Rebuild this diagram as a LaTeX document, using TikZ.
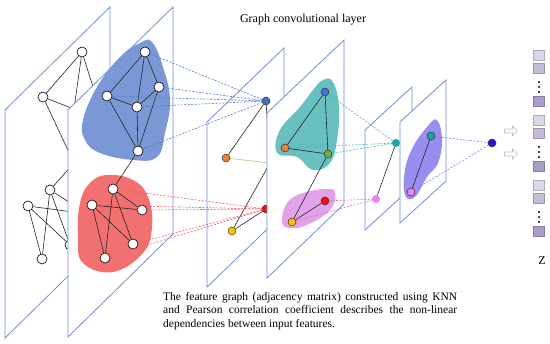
\documentclass[tikz,border=0pt]{standalone}
\usepackage{fontspec}
\setmainfont{Liberation Serif}
\usepackage{xcolor}
\definecolor{gcpanel}{RGB}{112,142,215}
\definecolor{gcblue}{RGB}{68,114,196}
\definecolor{gcorange}{RGB}{237,125,49}
\definecolor{gcgreen}{RGB}{112,173,71}
\definecolor{gcgreenl}{RGB}{160,205,130}
\definecolor{gcred}{RGB}{250,10,10}
\definecolor{gcyellow}{RGB}{255,192,0}
\definecolor{gcteal}{RGB}{24,165,160}
\definecolor{gcpink}{RGB}{240,130,240}
\definecolor{gcdeep}{RGB}{40,20,210}
\definecolor{blobblue}{RGB}{122,152,214}
\definecolor{blobred}{RGB}{242,112,112}
\definecolor{blobteal}{RGB}{104,192,192}
\definecolor{blobpink}{RGB}{226,162,232}
\definecolor{blobpurple}{RGB}{152,142,240}
\definecolor{linkblue}{RGB}{80,120,210}
\definecolor{linkred}{RGB}{240,90,110}
\definecolor{linkteal}{RGB}{60,185,185}
\definecolor{linkpink}{RGB}{225,100,225}
\definecolor{linkpurple}{RGB}{130,115,235}
\definecolor{vlight}{RGB}{220,214,232}
\definecolor{vmid}{RGB}{198,188,218}
\definecolor{vdark}{RGB}{170,156,200}
\definecolor{gcarrow}{RGB}{180,190,205}
\usepackage{tikz}
\usetikzlibrary{shapes.arrows}
\tikzset{
  panel/.style={draw=gcpanel, fill=white, line width=0.8pt},
  wnode/.style={draw, circle, fill=white, minimum size=10pt, inner sep=0pt, line width=0.6pt},
  cnode/.style={draw=black!80, circle, fill=#1, minimum size=8pt, inner sep=0pt, line width=0.5pt},
  pnode/.style={circle, fill=#1, minimum size=8pt, inner sep=0pt},
  gedge/.style={draw=black!85, line width=0.6pt},
  dlink/.style={draw=#1, line width=0.6pt, dash pattern=on 2pt off 1.5pt},
  vsq/.style={draw=#1!80!black, fill=#1, minimum width=11pt, minimum height=10pt,
              inner sep=0pt, line width=0.4pt},
  harrow/.style={single arrow, draw=gcarrow, fill=white, minimum height=13pt,
                 minimum width=10pt, single arrow head extend=2pt, inner sep=1pt, line width=0.6pt},
}

\begin{document}
\begin{tikzpicture}[x=1pt, y=-1pt]
\useasboundingbox (0,0) rectangle (550,344);

% Title
\node[font=\fontsize{12}{14}\selectfont] (title) at (303,20) {Graph convolutional layer};

% Input panel
\draw[panel] (5,110) -- (110,7) -- (110,235) -- (5,338) -- cycle;
\node[wnode] (a1) at (82,52) {};
\node[wnode] (a2) at (43,97) {};
\node[wnode] (b1) at (50,190) {};
\node[wnode] (b2) at (28,206) {};
\node[wnode] (b3) at (42,259) {};
\node[wnode] (b4) at (70,245) {};
\coordinate (h1) at (74,109);
\coordinate (h2) at (74,163);
\coordinate (h3) at (101,112);
\coordinate (h4) at (88,214);
\draw[gedge] (a1) -- (a2) (a1) -- (h1) (a1) -- (h3) (a2) -- (h1) (a2) -- (h2) (h2) -- (b1)
             (b1) -- (b3) (b2) -- (b3) (b1) -- (b4) (b2) -- (b4) (b1) -- (h4) (b2) -- (h4);

% Feature graph panel
\draw[panel] (68,110) -- (173,7) -- (173,234) -- (68,337) -- cycle;
\fill[blobblue] plot[smooth cycle, tension=0.7] coordinates
  {(152,42) (163,67) (170,100) (165,133) (157,157) (133,160) (100,153) (85,140) (83,120) (97,87) (120,57) (140,43)};
\fill[blobred] plot[smooth cycle, tension=0.7] coordinates
  {(107,175) (133,180) (148,197) (152,227) (143,253) (113,272) (83,263) (78,237) (80,203) (90,183)};
\node[wnode] (p1) at (145,52) {};
\node[wnode] (p2) at (159,87) {};
\node[wnode] (p3) at (107,96) {};
\node[wnode] (p4) at (137,107) {};
\node[wnode] (p5) at (138,151) {};
\node[wnode] (q1) at (113,189) {};
\node[wnode] (q2) at (92,205) {};
\node[wnode] (q3) at (142,210) {};
\node[wnode] (q4) at (133,244) {};
\node[wnode] (q5) at (105,258) {};
\draw[gedge] (p1) -- (p3) (p1) -- (p4) (p1) -- (p2) (p2) -- (p4) (p3) -- (p4) (p3) -- (p5)
             (p4) -- (p5) (p2) -- (p5) (p5) -- (q1)
             (q1) -- (q3) (q1) -- (q4) (q1) -- (q5) (q2) -- (q3) (q2) -- (q4) (q2) -- (q5);

% First convolution
\draw[panel] (207,122) -- (284,48) -- (284,213) -- (207,287) -- cycle;
\node[cnode=gcblue] (r1) at (266,101) {};
\node[cnode=gcorange] (r2) at (226,158) {};
\coordinate (r3) at (270,163);
\node[cnode=gcred] (r4) at (266,209) {};
\node[cnode=gcyellow] (r5) at (232,231) {};
\draw[gedge] (r1) -- (r2) (r1) -- (r3) (r3) -- (r5) (r5) -- (r4);
\draw[gcgreenl, line width=0.6pt] (r2) -- (r3);
\draw[dlink=linkblue] (p1) -- (r1) (p2) -- (r1) (p3) -- (r1) (p4) -- (r1) (p5) -- (r1);
\draw[dlink=linkred] (q1) -- (r4) (q2) -- (r4) (q3) -- (r4) (q4) -- (r4) (q5) -- (r4);

\draw[panel] (267,113) -- (344,40) -- (344,204) -- (267,278) -- cycle;
\fill[blobteal] plot[smooth cycle, tension=0.7] coordinates
  {(323,80) (333,82) (339,107) (337,140) (330,163) (313,170) (297,157) (277,153) (280,130) (300,107) (313,90)};
\fill[blobpink] plot[smooth cycle, tension=0.7] coordinates
  {(282,222) (290,228) (307,225) (330,210) (335,193) (327,189) (303,193) (287,203)};
\node[cnode=gcblue] (s1) at (325,92) {};
\node[cnode=gcorange] (s2) at (285,148) {};
\node[cnode=gcgreen] (s3) at (328,154) {};
\node[cnode=gcred] (s4) at (325,201) {};
\node[cnode=gcyellow] (s5) at (292,222) {};
\draw[gedge] (s1) -- (s2) (s1) -- (s3) (s2) -- (s3) (s3) -- (s5) (s5) -- (s4);

% Second convolution
\draw[panel] (365,130) -- (412,87) -- (412,187) -- (365,230) -- cycle;
\node[pnode=gcteal] (t1) at (396,143) {};
\node[pnode=gcpink] (t2) at (376,199) {};
\draw[gedge] (t1) -- (t2);
\draw[dlink=linkteal] (s1) -- (t1) (s2) -- (t1) (s3) -- (t1);
\draw[dlink=linkpink] (s4) -- (t2) (s5) -- (t2);

\draw[panel] (400,122) -- (446,80) -- (446,181) -- (400,223) -- cycle;
\fill[blobpurple] plot[smooth cycle, tension=0.7] coordinates
  {(437,120) (442,140) (438,163) (427,177) (415,197) (405,195) (405,170) (413,147) (427,127)};
\node[cnode=gcteal] (u1) at (431,136) {};
\node[cnode=gcpink] (u2) at (411,192) {};
\draw[gedge] (u1) -- (u2);

% Output node
\node[cnode=gcdeep] (v) at (492,143) {};
\draw[dlink=linkpurple] (u1) -- (v) (u2) -- (v);
\node[harrow] (ar1) at (510,131) {};
\node[harrow] (ar2) at (510,154) {};

% Feature vector Z
\node[vsq=vlight] (z1a) at (539,55) {};
\node[vsq=vmid] (z1b) at (539,68) {};
\node[vsq=vdark] (z1c) at (539,101) {};
\node[vsq=vlight] (z2a) at (539,120) {};
\node[vsq=vmid] (z2b) at (539,133) {};
\node[vsq=vdark] (z2c) at (539,166) {};
\node[vsq=vlight] (z3a) at (539,185) {};
\node[vsq=vmid] (z3b) at (539,198) {};
\node[vsq=vdark] (z3c) at (539,231) {};
\foreach \y in {82,87,92,147,152,157,212,217,222}
  \fill (539,\y) circle (1.2pt);
\node[font=\fontsize{12}{14}\selectfont] (zlabel) at (542,261) {Z};

% Caption
\node[anchor=north west, text width=294pt, inner sep=0pt, align=justify,
      font=\fontsize{11.5}{13.7}\selectfont] (caption) at (163,292)
      {The feature graph (adjacency matrix) constructed using KNN\linebreak
       and Pearson correlation coefficient describes the non-linear\linebreak
       dependencies between input features.};

\end{tikzpicture}
\end{document}
